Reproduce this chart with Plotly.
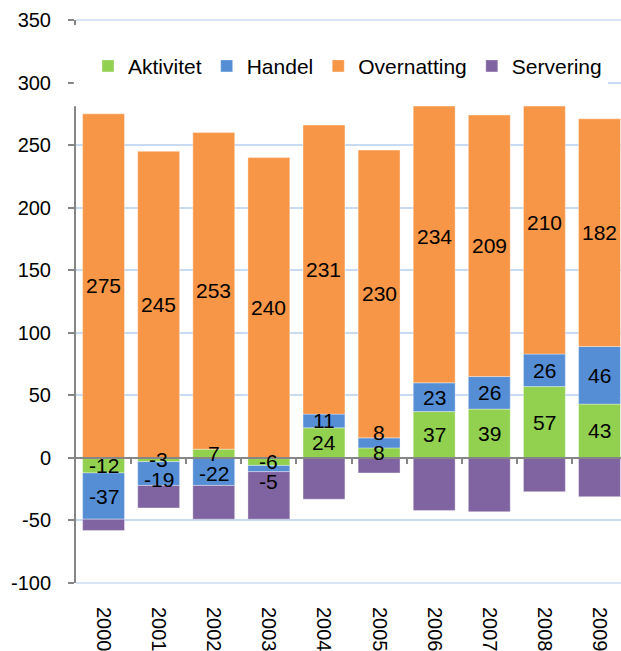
import plotly.graph_objects as go

# Yearly change per category (stacked, relative)
years = ["2000", "2001", "2002", "2003", "2004", "2005", "2006", "2007", "2008", "2009"]
aktivitet = [-12, -3, 7, -6, 24, 8, 37, 39, 57, 43]
handel = [-37, -19, -22, -5, 11, 8, 23, 26, 26, 46]
overnatting = [275, 245, 253, 240, 231, 230, 234, 209, 210, 182]
servering = [-9, -18, -27, -38, -33, -12, -42, -43, -27, -31]

y_ticks = [-100, -50, 0, 50, 100, 150, 200, 250, 300, 350]
y_min, y_max = -100, 350

colors = {
    "Aktivitet": "#92D050",
    "Handel": "#558ED5",
    "Overnatting": "#F79646",
    "Servering": "#8064A2",
}
series = [
    ("Aktivitet", aktivitet),
    ("Handel", handel),
    ("Overnatting", overnatting),
    ("Servering", servering),
]
labelled = ["Aktivitet", "Handel", "Overnatting"]

FONT = "Liberation Sans, Arial, sans-serif"
GRID = "#C9DBF2"
AXIS = "#868686"

fig = go.Figure()
for name, vals in series:
    fig.add_trace(go.Bar(
        x=years, y=vals, name=name,
        marker=dict(color=colors[name], line=dict(color="rgba(255,255,255,0.35)", width=1)),
        hoverinfo="x+y+name",
    ))

# Empty trace carrying the zero-line axis (category boundary ticks)
fig.add_trace(go.Scatter(x=[], y=[], xaxis="x2", yaxis="y", showlegend=False, hoverinfo="skip"))

# Value labels centred in each segment, pushed apart when segments are thin
MIN_SEP = 16.0
annotations = []
for i, yr in enumerate(years):
    pos_base, neg_base = 0.0, 0.0
    last_pos, last_neg = None, None
    for name, vals in series:
        v = vals[i]
        if v >= 0:
            centre = pos_base + v / 2.0
            pos_base += v
            if name in labelled:
                ref = last_pos if last_pos is not None else last_neg
                if ref is not None and centre - ref < MIN_SEP:
                    centre = ref + MIN_SEP
                last_pos = centre
        else:
            centre = neg_base + v / 2.0
            neg_base += v
            if name in labelled:
                ref = last_neg if last_neg is not None else last_pos
                if ref is not None and ref - centre < MIN_SEP:
                    centre = ref - MIN_SEP
                last_neg = centre
        if name in labelled:
            # category axes take the serial index of the category
            annotations.append(dict(
                x=i, y=centre, xref="x", yref="y", text=str(v), showarrow=False,
                font=dict(family=FONT, size=21, color="black"),
                xanchor="center", yanchor="middle",
            ))

x_range = [-0.5, 9.39]
zero_pos = (0 - y_min) / (y_max - y_min)


def to_paper(v):
    return (v - y_min) / (y_max - y_min)


# White panel behind the legend
box_lo, box_hi = 281, 346
shapes = [dict(
    type="rect", xref="paper", yref="paper", layer="above",
    x0=-0.004, x1=0.976, y0=to_paper(box_lo), y1=to_paper(box_hi),
    fillcolor="white", line=dict(width=0),
)]
# Grid lines on the outer ticks of the value axis
for edge in (y_min, y_max):
    shapes.append(dict(
        type="line", xref="paper", yref="paper", layer="below",
        x0=0, x1=1, y0=to_paper(edge), y1=to_paper(edge),
        line=dict(color=GRID, width=1.5),
    ))

fig.update_layout(
    width=621, height=651,
    margin=dict(l=76, r=0, t=20, b=68),
    paper_bgcolor="white", plot_bgcolor="white",
    barmode="relative", bargap=0.24,
    font=dict(family=FONT, size=20, color="black"),
    showlegend=True,
    legend=dict(
        orientation="h", x=0.022, y=to_paper(300) + 0.029, xanchor="left", yanchor="middle",
        bgcolor="rgba(0,0,0,0)", font=dict(family=FONT, size=21, color="black"),
        traceorder="normal",
    ),
    xaxis=dict(
        type="category", range=x_range, showgrid=False, showline=False, zeroline=False,
        ticks="", tickangle=90, ticklabelstandoff=23,
        tickfont=dict(family=FONT, size=20, color="black"),
    ),
    xaxis2=dict(
        type="linear", overlaying="x", anchor="free", position=zero_pos, range=x_range,
        showgrid=False, zeroline=False, showline=True, linecolor=AXIS, linewidth=2,
        ticks="outside", ticklen=5, tickwidth=1.5, tickcolor=AXIS,
        tickvals=[k + 0.5 for k in range(len(years) - 1)], showticklabels=False,
    ),
    yaxis=dict(
        range=[y_min, y_max], tickvals=y_ticks, ticktext=[str(t) for t in y_ticks],
        showgrid=True, gridcolor=GRID, gridwidth=1.5, zeroline=False,
        showline=True, linecolor=AXIS, linewidth=2,
        ticks="outside", ticklen=6, tickwidth=1.5, tickcolor=AXIS, ticklabelstandoff=13,
        tickfont=dict(family=FONT, size=20, color="black"),
    ),
    shapes=shapes,
    annotations=annotations,
)

fig.write_html("out.html")
